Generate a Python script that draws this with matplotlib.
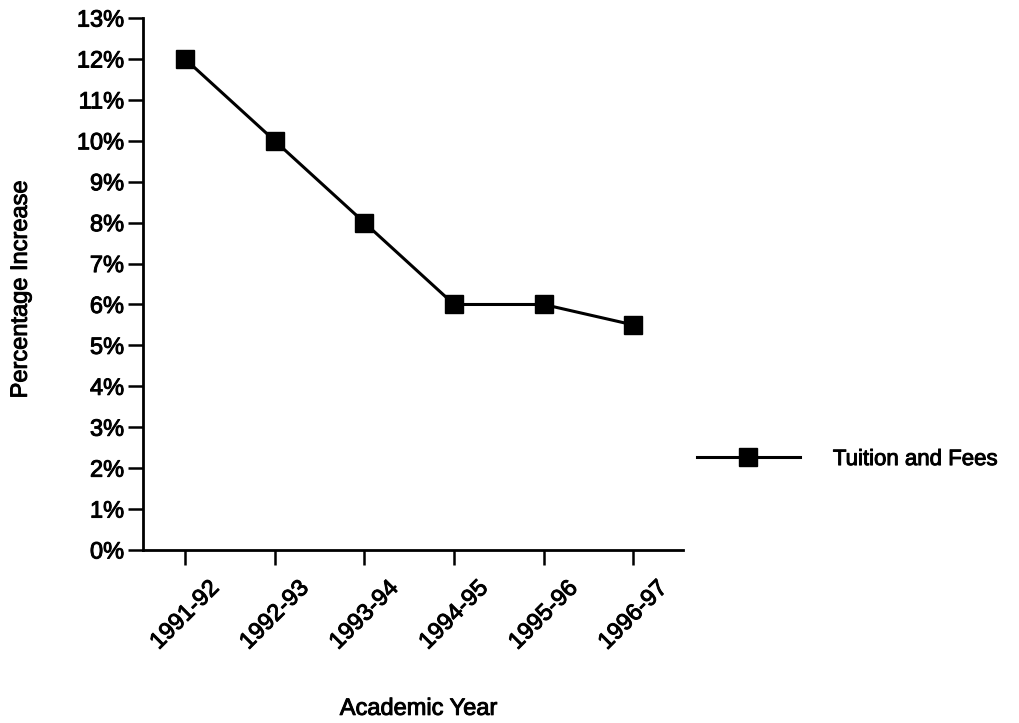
import matplotlib
matplotlib.use("Agg")
import matplotlib.pyplot as plt
import matplotlib.patheffects as pe
from matplotlib.ticker import FuncFormatter, MultipleLocator

plt.rcParams['font.family'] = ['Liberation Sans', 'DejaVu Sans']

years = ["1991-92", "1992-93", "1993-94", "1994-95", "1995-96", "1996-97"]
tuition_increase = [12, 10, 8, 6, 6, 5.5]
series_name = "Tuition and Fees"

# slight stroke to give the text a heavier, printed look
heavy = [pe.withStroke(linewidth=0.7, foreground='black')]

fig = plt.figure(figsize=(10.19, 7.23), dpi=100)
ax = fig.add_axes([0.1403, 0.2393, 0.670 - 0.1403, 0.975 - 0.2393])

x = list(range(len(years)))
ax.plot(x, tuition_increase, color='black', linewidth=2.2, marker='s',
        markersize=13, markerfacecolor='black', markeredgecolor='black',
        label=series_name)

ax.set_xlim(-0.47, 5.55)
ax.set_ylim(0, 13)
ax.yaxis.set_major_locator(MultipleLocator(1))
ax.yaxis.set_major_formatter(FuncFormatter(lambda v, p: f"{int(round(v))}%"))
ax.set_xticks(x)
ax.set_xticklabels(years, rotation=45, ha='center')

for side in ('top', 'right'):
    ax.spines[side].set_visible(False)
for side in ('left', 'bottom'):
    ax.spines[side].set_linewidth(2.0)

ax.tick_params(axis='both', direction='out', length=10.5, width=1.8,
               labelsize=17, colors='black')
ax.tick_params(axis='y', pad=3)
ax.tick_params(axis='x', pad=9)

for lbl in ax.get_xticklabels() + ax.get_yticklabels():
    lbl.set_path_effects(heavy)

ax.set_ylabel("Percentage Increase", fontsize=17, path_effects=heavy)
ax.set_xlabel("Academic Year", fontsize=17, path_effects=heavy)
ax.yaxis.set_label_coords(-0.206, 0.49)
ax.xaxis.set_label_coords(0.511, -0.278)

leg = ax.legend(loc='center left', bbox_to_anchor=(0.99, 0.17), frameon=False,
                fontsize=16, handlelength=4.6, handletextpad=1.5)
for t in leg.get_texts():
    t.set_path_effects(heavy)

fig.savefig("out.png", dpi=100, facecolor='white')
